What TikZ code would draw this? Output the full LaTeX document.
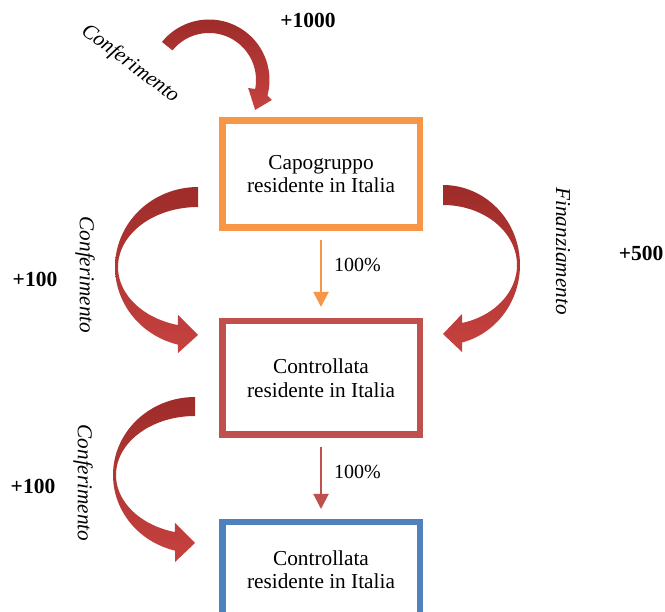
\documentclass[tikz,border=0pt]{standalone}
\usepackage{fontspec}
\setmainfont{Liberation Serif}
\usetikzlibrary{arrows.meta}
\definecolor{orangeb}{HTML}{F79646}
\definecolor{redb}{HTML}{C0504D}
\definecolor{blueb}{HTML}{4F81BD}
\definecolor{darkr}{HTML}{9E2C2A}
\definecolor{lightr}{HTML}{C6423F}
\begin{document}
\begin{tikzpicture}[x=1pt,y=-1pt,
  font=\fontsize{21.3}{23.5}\selectfont,
  box/.style={draw, line width=6.5pt, minimum width=197.5pt, inner sep=0pt, outer sep=0pt, align=center, fill=white},
  link/.style={line width=2pt, -{Triangle[length=15pt,width=15pt]}},
  ribbon/.style={draw=none, top color=darkr, bottom color=lightr},
  lbl/.style={font=\fontsize{21.2}{24}\selectfont\itshape, inner sep=0pt},
  num/.style={font=\fontsize{21.5}{24}\selectfont\bfseries, inner sep=0pt},
  pct/.style={font=\fontsize{20}{23}\selectfont, text=black, inner sep=0pt, anchor=west, xshift=12pt}]
\useasboundingbox (0,0) rectangle (665,612);

% curved ribbon arrows
% top: Conferimento into Capogruppo
\path[ribbon] plot[domain=219:375, samples=60] ({209+60.5*cos(\x)},{80+60.5*sin(\x)})
  -- ({209+66*cos(17.6)},{80+66*sin(17.6)})
  -- ({209+55*cos(33)},{80+55*sin(33)})
  -- ({209+40*cos(11.6)},{80+40*sin(11.6)})
  -- plot[domain=371:219, samples=60] ({209+47*cos(\x)},{80+47*sin(\x)}) -- cycle;
% left upper
\path[ribbon] plot[domain=270:104, samples=60] ({198+83*cos(\x)},{267+80*sin(\x)})
  -- (178,353) -- (198,335) -- (178,315)
  -- plot[domain=104.5:270, samples=60] ({198+80*cos(\x)},{267+60*sin(\x)}) -- cycle;
% right
\path[ribbon] plot[domain=-90:75.7, samples=60] ({443+77*cos(\x)},{265+80*sin(\x)})
  -- (462,352) -- (443,334) -- (462,314)
  -- plot[domain=75.1:-90, samples=60] ({443+74*cos(\x)},{265+60*sin(\x)}) -- cycle;
% left lower
\path[ribbon] plot[domain=270:104.1, samples=60] ({195+82*cos(\x)},{475+78*sin(\x)})
  -- (175,562) -- (195,543) -- (175,523)
  -- plot[domain=104.7:270, samples=60] ({195+79*cos(\x)},{475+59*sin(\x)}) -- cycle;

% boxes
\node[box, draw=orangeb, minimum height=107pt] (cap) at (321,174) {Capogruppo\\residente in Italia};
\node[box, draw=redb, minimum height=113.5pt] (c1) at (321,378) {Controllata\\residente in Italia};
\node[box, draw=blueb, minimum height=94.5pt] (c2) at (321,569.5) {Controllata\\residente in Italia};

% ownership arrows
\draw[link, orangeb, shorten <=12.5pt, shorten >=14.25pt] (cap) -- node[pct, pos=0.4] (p1) {100\%} (c1);
\draw[link, redb, shorten <=12.25pt, shorten >=13.25pt] (c1) -- node[pct, pos=0.426] (p2) {100\%} (c2);

% labels
\node[lbl, rotate=-37] (t1) at (130,64) {Conferimento};
\node[lbl, rotate=-90] (t2) at (85,275) {Conferimento};
\node[lbl, rotate=-90] (t3) at (563,251) {Finanziamento};
\node[lbl, rotate=-90] (t4) at (83,483) {Conferimento};
\node[num] (n1) at (308,20) {+1000};
\node[num] (n2) at (641,253) {+500};
\node[num] (n3) at (35,279) {+100};
\node[num] (n4) at (33,486) {+100};
\end{tikzpicture}
\end{document}
